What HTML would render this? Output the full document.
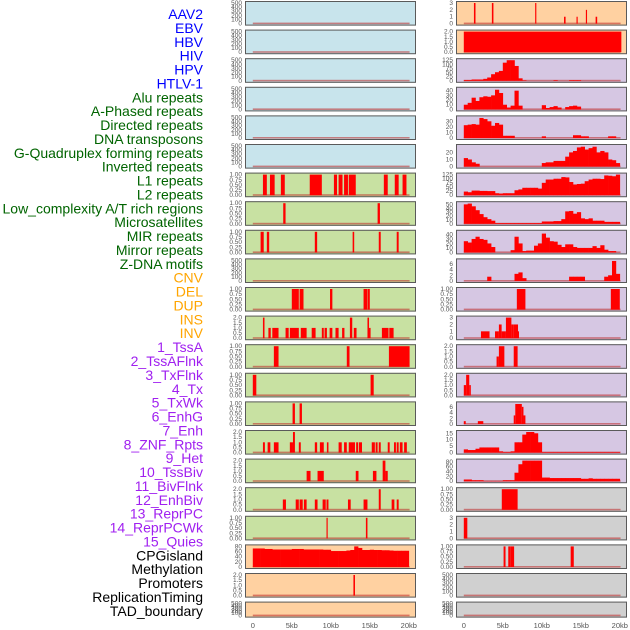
<!DOCTYPE html>
<html><head><meta charset="utf-8"><style>
html,body{margin:0;padding:0;background:#fff;}
svg{display:block;font-family:"Liberation Sans",sans-serif;}
</style></head><body>
<svg id="chart" width="630" height="630" viewBox="0 0 630 630"></svg>
<script>
const trackLabels=["AAV2","EBV","HBV","HIV","HPV","HTLV-1","Alu repeats","A-Phased repeats","Directed repeats","DNA transposons","G-Quadruplex forming repeats","Inverted repeats","L1 repeats","L2 repeats","Low_complexity A/T rich regions","Microsatellites","MIR repeats","Mirror repeats","Z-DNA motifs","CNV","DEL","DUP","INS","INV","1_TssA","2_TssAFlnk","3_TxFlnk","4_Tx","5_TxWk","6_EnhG","7_Enh","8_ZNF_Rpts","9_Het","10_TssBiv","11_BivFlnk","12_EnhBiv","13_ReprPC","14_ReprPCWk","15_Quies","CPGisland","Methylation","Promoters","ReplicationTiming","TAD_boundary"];
const labelColors=["#0000ff","#0000ff","#0000ff","#0000ff","#0000ff","#0000ff","#006400","#006400","#006400","#006400","#006400","#006400","#006400","#006400","#006400","#006400","#006400","#006400","#006400","#ffa500","#ffa500","#ffa500","#ffa500","#ffa500","#a020f0","#a020f0","#a020f0","#a020f0","#a020f0","#a020f0","#a020f0","#a020f0","#a020f0","#a020f0","#a020f0","#a020f0","#a020f0","#a020f0","#a020f0","#000","#000","#000","#000","#000"];
const xTickValues=[0,5,10,15,20];
const xTickLabels=["0","5kb","10kb","15kb","20kb"];
const ticks01=["0.00","0.25","0.50","0.75","1.00"];
const ticks02=["0.0","0.5","1.0","1.5","2.0"];
const ticks500=["0","100","200","300","400","500"];
// interval tracks: [startKb, endKb, height]
const aluIv=[[1.3,1.8,1],[2.2,2.8,1],[3.6,4.1,1],[7.3,8.85,1],[10.4,10.8,1],[11.0,11.5,1],[11.7,12.2,1],[12.3,13.2,1],[16.8,17.3,1],[18.2,18.7,1],[19.2,19.7,1]];
const aphasedIv=[[3.9,4.2,1],[16.0,16.3,1]];
const directedIv=[[1.0,1.4,1],[1.8,2.1,1],[7.95,8.25,1],[12.8,13.0,1],[16.15,16.4,1],[18.45,18.7,1]];
const gquadIv=[[5.0,5.9,1],[6.0,6.5,1],[9.9,10.2,1],[14.2,14.65,1],[14.7,15.0,1]];
const invertedIv=[[1.3,1.5,2],[2.0,2.3,1],[2.5,3.3,1],[4.2,4.6,1],[4.75,5.9,1],[6.15,6.9,1],[7.55,8.05,1],[8.85,9.1,1],[9.2,9.5,1],[9.85,10.2,1],[10.6,11.0,1],[11.45,11.75,1],[12.45,12.75,2],[12.95,13.3,1],[14.7,14.9,2],[14.9,15.1,1],[16.55,17.4,1],[17.5,18.05,1]];
const l1Iv=[[2.7,3.3,1],[12.05,12.4,1],[17.45,20.1,1]];
const l2Iv=[[0,0.45,1],[15.1,15.5,1]];
const lowcIv=[[5.1,5.4,1],[6.0,6.3,1]];
const microIv=[[1.3,1.55,1],[1.9,2.25,1],[2.7,3.3,1],[4.75,5.15,1],[5.15,5.4,2],[5.9,6.15,1],[7.95,8.25,1],[8.6,9.1,1],[9.5,9.7,1],[11.0,11.4,1],[11.7,12.05,1],[12.3,13.1,1],[13.25,13.5,1],[13.6,14.0,1],[15.25,15.65,1],[15.75,16.0,1],[16.15,16.4,1],[17.3,17.55,1],[18.1,18.35,1],[18.45,18.7,1],[18.85,19.2,1],[19.4,19.75,1]];
const mirIv=[[6.9,7.4,1],[8.3,9.1,1],[13.2,13.55,1],[15.4,15.85,1],[16.65,17.0,2],[17.0,17.3,1]];
const mirrorIv=[[3.85,4.25,1],[5.5,5.9,1],[6.0,6.4,1],[6.55,6.9,1],[7.95,8.3,1],[8.95,9.35,1],[9.45,9.7,1],[12.2,12.55,1],[14.2,14.7,1],[16.15,16.4,2],[17.8,18.15,1],[18.45,18.7,1]];
const zdnaIv=[[9.45,9.6,1],[14.5,14.7,1]];
const cnvBins=[72,72,72,70,70,68,68,68,68,68,70,70,70,68,68,68,68,68,67,67,62,62,62,62,64,66,80,74,66,66,67,66,66,65,65,64,63,63,63,63];
const delIv=[[12.9,13.1,2]];
const insIv=[[1.3,1.5,3],[3.6,3.8,3],[9.15,9.3,3],[12.85,13.05,1],[14.45,14.6,1],[15.65,15.8,2],[16.9,17.1,1]];
const invIv=[[0,20.2,2]];
const tssaBins=[5,5,8,8,8,12,20,40,52,60,110,125,125,90,15,3,0,0,0,0,0,0,0,4,0,0,0,4,4,4,0,0,0,0,0,0,0,0,0,0];
const tssaflnkBins=[10,14,25,18,26,28,27,30,42,35,10,4,8,40,8,0,0,0,0,0,9,3,5,7,4,0,5,7,8,6,0,0,0,0,0,0,0,0,0,0];
const txflnkBins=[23,24,25,24,36,34,30,22,27,24,4,4,4,0,0,0,0,0,0,0,3,0,0,0,0,0,0,0,5,5,3,3,0,0,0,0,0,3,3,0];
const txBins=[12,10,6,4,0,0,0,0,0,0,0,0,0,0,0,0,0,0,0,0,5,6,6,8,8,8,14,20,22,27,28,24,26,28,20,22,20,10,9,5];
const txwkBins=[22,18,28,28,26,26,25,25,12,10,12,12,12,30,35,45,45,45,45,40,75,95,95,100,100,110,108,80,65,68,70,85,95,100,100,98,120,118,115,125];
const enhgBins=[50,52,45,35,25,17,12,8,2,2,2,2,2,2,2,2,2,2,2,2,6,6,6,7,7,12,32,33,26,30,14,12,14,8,8,8,5,5,5,5];
const enhBins=[25,22,30,35,30,28,20,12,0,0,0,0,5,35,20,3,4,4,15,20,42,33,25,24,17,12,18,18,12,10,10,10,10,14,10,16,6,3,3,0];
const znfBins=[0,0,0,0,0,0,1.5,0,0,0,0,0,0,2.5,3,1,0,0,0,0,0,0,0,0,0,0,0,1.5,1.5,1.5,1.5,0,0,0,0,0,1.5,2,7,2.5];
const hetIv=[[6.8,7.9,1],[18.85,20.0,1]];
const tssbivIv=[[2.2,3.3,1],[4.0,4.5,1],[4.5,4.85,2],[4.85,5.4,1],[5.4,6.1,3],[6.1,6.4,2],[6.4,6.95,2],[6.95,7.05,1]];
const bivflnkIv=[[4.2,4.5,1],[4.5,5.2,2],[6.4,6.9,2]];
const enhbivIv=[[0,0.3,1],[0.3,0.7,2],[0.7,0.9,1]];
const reprpcIv=[[0,0.25,1],[1.8,2.5,1],[6.4,6.6,3],[6.6,7.44,7],[7.44,7.65,6],[7.65,7.9,3]];
const reprpcwkBins=[2.5,2,2,3,4,4,4,4,4,1,0.5,0.5,1,8,8,14,16,16,15,8,0.5,0.5,0.5,0.5,0.5,0.5,0.5,0.5,0.5,0.5,0.5,0.5,0.5,0.5,0.5,0.5,0.5,0.5,0.5,0.5];
const quiesBins=[7,7,4,4,4,1,1,1,1,1,4,4,4,35,70,85,85,85,85,85,15,15,13,13,13,13,13,13,13,13,10,10,12,10,10,10,10,10,10,10];
const cpgIv=[[4.87,6.9,1]];
const methIv=[[0,0.45,3]];
const promIv=[[5.1,5.35,1],[5.7,5.95,1],[5.95,6.45,1],[13.7,14.1,1]];

const BLUE="#c8e4ec",GREEN="#c8e1a2",ORANGE="#ffd1a1",PURPLE="#d6c7e3",GRAY="#d0d0d0";
const tracks=[
 {bg:BLUE,ymax:500,tl:ticks500},{bg:BLUE,ymax:500,tl:ticks500},{bg:BLUE,ymax:500,tl:ticks500},{bg:BLUE,ymax:500,tl:ticks500},{bg:BLUE,ymax:500,tl:ticks500},{bg:BLUE,ymax:500,tl:ticks500},
 {bg:GREEN,ymax:1,tl:ticks01,iv:aluIv},{bg:GREEN,ymax:1,tl:ticks01,iv:aphasedIv},{bg:GREEN,ymax:1,tl:ticks01,iv:directedIv},{bg:GREEN,ymax:500,tl:ticks500},
 {bg:GREEN,ymax:1,tl:ticks01,iv:gquadIv},{bg:GREEN,ymax:2,tl:ticks02,iv:invertedIv},{bg:GREEN,ymax:1,tl:ticks01,iv:l1Iv},{bg:GREEN,ymax:1,tl:ticks01,iv:l2Iv},
 {bg:GREEN,ymax:1,tl:ticks01,iv:lowcIv},{bg:GREEN,ymax:2,tl:ticks02,iv:microIv},{bg:GREEN,ymax:2,tl:ticks02,iv:mirIv},{bg:GREEN,ymax:2,tl:ticks02,iv:mirrorIv},{bg:GREEN,ymax:1,tl:ticks01,iv:zdnaIv},
 {bg:ORANGE,ymax:80,tl:["0","20","40","60","80"],bins:cnvBins},{bg:ORANGE,ymax:2,tl:ticks02,iv:delIv},{bg:ORANGE,ymax:500,tl:ticks500,short:true},
 {bg:ORANGE,ymax:3,tl:["0","1","2","3"],iv:insIv},{bg:ORANGE,ymax:2,tl:ticks02,iv:invIv},
 {bg:PURPLE,ymax:125,tl:["0","25","50","75","100","125"],bins:tssaBins},{bg:PURPLE,ymax:44,tl:["0","10","20","30","40"],bins:tssaflnkBins},
 {bg:PURPLE,ymax:37,tl:["0","10","20","30"],bins:txflnkBins},{bg:PURPLE,ymax:29,tl:["0","10","20"],bins:txBins},
 {bg:PURPLE,ymax:125,tl:["0","25","50","75","100","125"],bins:txwkBins},{bg:PURPLE,ymax:53,tl:["0","10","20","30","40","50"],bins:enhgBins},
 {bg:PURPLE,ymax:46,tl:["0","10","20","30","40"],bins:enhBins},{bg:PURPLE,ymax:7.2,tl:["0","2","4","6"],bins:znfBins},
 {bg:PURPLE,ymax:1,tl:ticks01,iv:hetIv},{bg:PURPLE,ymax:3,tl:["0","1","2","3"],iv:tssbivIv},{bg:PURPLE,ymax:2,tl:ticks02,iv:bivflnkIv},
 {bg:PURPLE,ymax:2,tl:ticks02,iv:enhbivIv},{bg:PURPLE,ymax:7.2,tl:["0","2","4","6"],iv:reprpcIv},{bg:PURPLE,ymax:16,tl:["0","5","10","15"],bins:reprpcwkBins},
 {bg:PURPLE,ymax:85,tl:["0","20","40","60","80"],bins:quiesBins},
 {bg:GRAY,ymax:1,tl:ticks01,iv:cpgIv},{bg:GRAY,ymax:3,tl:["0","1","2","3"],iv:methIv},{bg:GRAY,ymax:1,tl:ticks01,iv:promIv},
 {bg:GRAY,ymax:500,tl:ticks500},{bg:GRAY,ymax:500,tl:ticks500,short:true}
];
const NS="http://www.w3.org/2000/svg";
const svg=document.getElementById('chart');
function mk(tag,attrs,parent){const e=document.createElementNS(NS,tag);for(const k in attrs)e.setAttribute(k,attrs[k]);(parent||svg).appendChild(e);return e;}
trackLabels.forEach((t,i)=>{
 const e=mk('text',{x:203,y:19+i*13.88,'text-anchor':'end','font-size':'14',fill:labelColors[i]});
 e.textContent=t;
 
 
});
const colX=[245,456], W=171, PITCH=28.6, H=24.6;
function xs(col,kb){return colX[col]+7.8+kb*7.8;}
tracks.forEach((tr,idx)=>{
 const col=idx<22?0:1, row=idx%22;
 const top=1+row*PITCH, h=tr.short?16:H, bot=top+h;
 const g=mk('g',{});
 
 
 mk('rect',{x:colX[col],y:top,width:W,height:h,fill:tr.bg},g);
 const y0=bot-2, y1=top+2;
 const ys=v=>y0-(v/tr.ymax)*(y0-y1);
 const step=tr.tl.length>1?(tr.ymax>=500?100:null):null;
 tr.tl.forEach((lab,k)=>{
  const v=parseFloat(lab);
  const tt=mk('text',{x:colX[col]-3,y:ys(v)+2,'text-anchor':'end','font-size':'6.5',fill:'#555'},g);
  tt.textContent=lab;
  
  
 });
 mk('rect',{x:xs(col,0),y:y0-1,width:xs(col,20.1)-xs(col,0),height:1.6,fill:'rgba(190,40,40,0.55)'},g);
 if(tr.iv){tr.iv.forEach(d=>{
  const r=mk('rect',{x:xs(col,d[0]),y:ys(d[2]),width:Math.max(1,xs(col,d[1])-xs(col,d[0])),height:y0-ys(d[2]),fill:'#ff0000'},g);
  
  
 });}
 if(tr.bins){tr.bins.forEach((v,i)=>{
  if(v<=0)return;
  const r=mk('rect',{x:xs(col,i*0.5),y:ys(v),width:xs(col,(i+1)*0.5)-xs(col,i*0.5)+0.3,height:y0-ys(v),fill:'#ff0000'},g);
  
  
 });}
 mk('rect',{x:colX[col]+0.5,y:top+0.5,width:W-1,height:h-1,fill:'none',stroke:'#5a5a5a','stroke-width':1},g);
});
[0,1].forEach(col=>{
 xTickValues.forEach((v,i)=>{
  const t=mk('text',{x:xs(col,v),y:628,'text-anchor':'middle','font-size':'7.5',fill:'#555'});
  t.textContent=xTickLabels[i];
  
  
 });
});
</script>
</body></html>
